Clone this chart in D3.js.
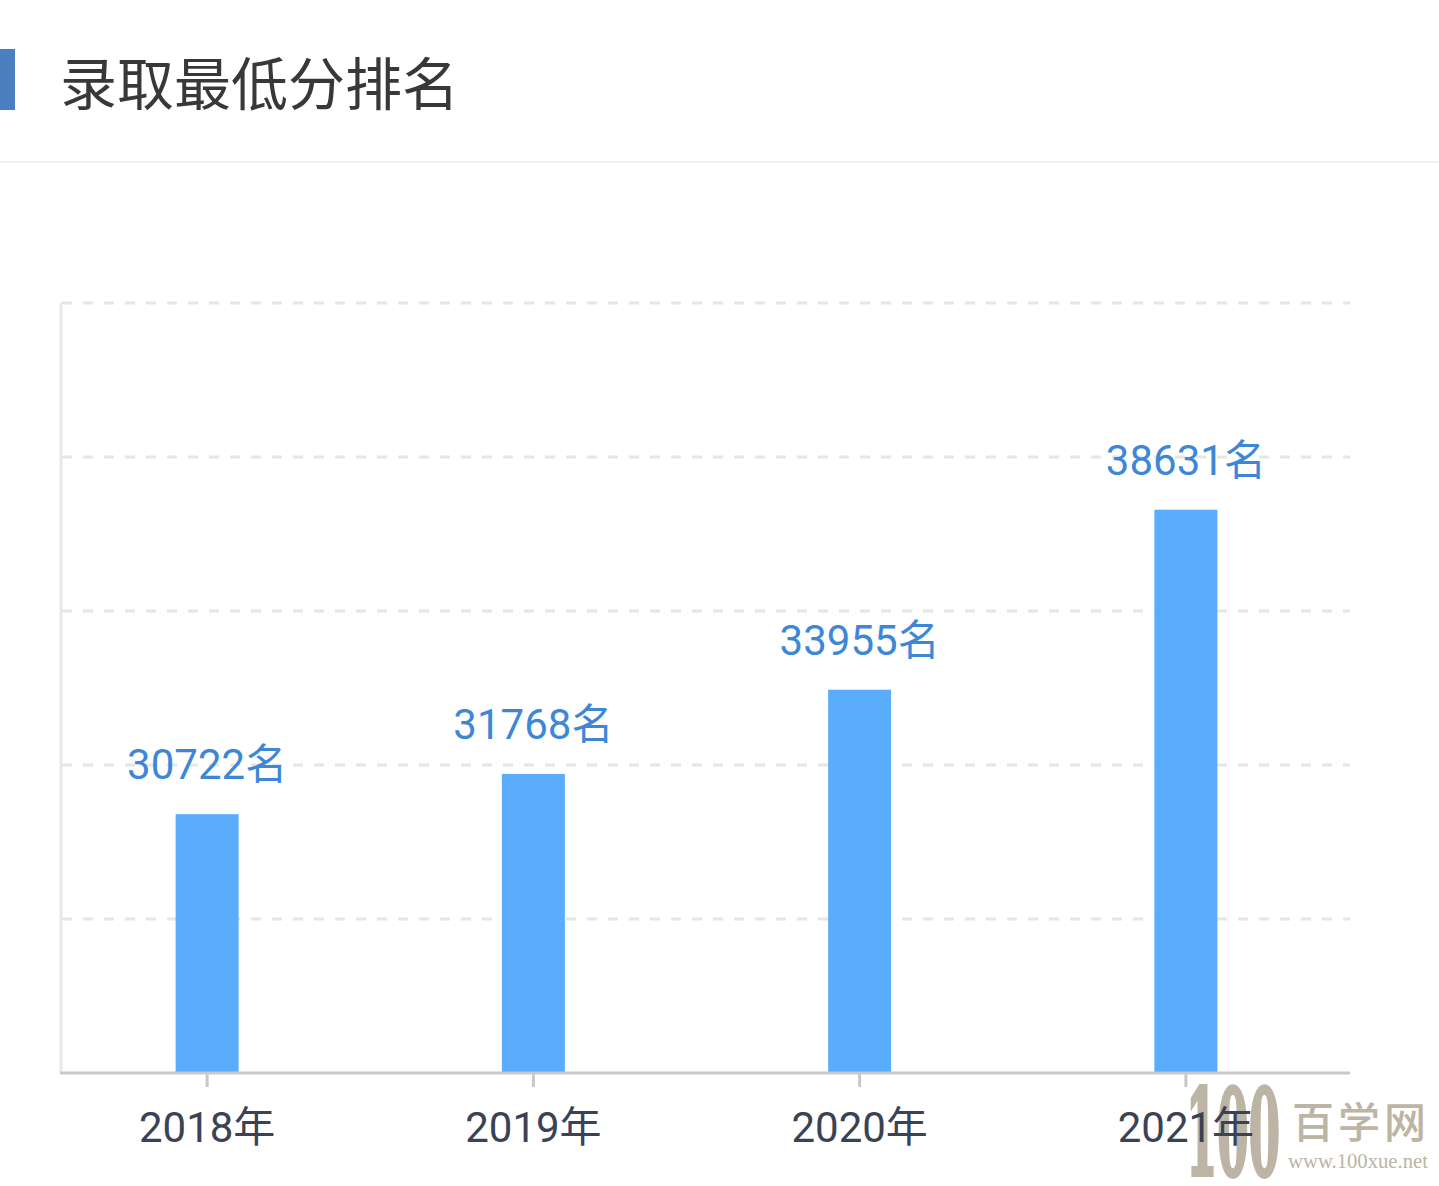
<!DOCTYPE html>
<html><head><meta charset="utf-8">
<script src="https://cdn.jsdelivr.net/npm/d3@7"></script>
<style>html,body{margin:0;padding:0;background:#fff;}svg{display:block;}</style>
</head><body>
<svg id="c" width="1439" height="1186"></svg>
<script>
const title = "录取最低分排名";
const categories = ["2018年", "2019年", "2020年", "2021年"];
const values = [30722, 31768, 33955, 38631];
const labelSuffix = "名";
const yTicks = [24000, 28000, 32000, 36000, 40000, 44000];

const svg = d3.select("#c");
const font = "Roboto, 'Noto Sans CJK SC', sans-serif";

// header
svg.append("rect").attr("x", 0).attr("y", 49).attr("width", 15).attr("height", 61).attr("fill", "#4a7fc0");
svg.append("text").attr("x", 60).attr("y", 105).attr("font-family", "'Noto Sans CJK SC', sans-serif")
  .attr("font-size", 57).attr("fill", "#383838").text(title);
svg.append("rect").attr("x", 0).attr("y", 161).attr("width", 1439).attr("height", 2).attr("fill", "#f2f2f2");

const x = d3.scaleBand().domain(categories).range([44, 1349]);
const y = d3.scaleLinear().domain([24000, 44000]).range([1073, 303]);

// grid
svg.append("g").selectAll("line").data(yTicks.slice(1)).join("line")
  .attr("x1", 62).attr("x2", 1350).attr("y1", d => y(d)).attr("y2", d => y(d))
  .attr("stroke", "#e6e6e6").attr("stroke-width", 3).attr("stroke-dasharray", "10,11");

// y axis line
svg.append("line").attr("x1", 61).attr("x2", 61).attr("y1", y(44000)).attr("y2", y(24000))
  .attr("stroke", "#e8e8e8").attr("stroke-width", 3);

// bars
const bw = 63;
svg.append("g").selectAll("rect").data(values).join("rect")
  .attr("x", (d, i) => x(categories[i]) + x.bandwidth() / 2 - bw / 2)
  .attr("width", bw)
  .attr("y", d => y(d))
  .attr("height", d => y(24000) - y(d))
  .attr("fill", "#5aacfd");

// value labels
svg.append("g").selectAll("text").data(values).join("text")
  .attr("x", (d, i) => x(categories[i]) + x.bandwidth() / 2)
  .attr("y", d => y(d) - 35)
  .attr("text-anchor", "middle").attr("font-family", font).attr("font-size", 42)
  .attr("fill", "#3d87d6").text(d => d + labelSuffix);

// watermark
const wm = svg.append("g").attr("fill", "#bcb4a4");
wm.append("text").attr("x", 1186).attr("y", 1175).attr("font-family", "'DejaVu Serif', serif")
  .attr("font-size", 120).attr("font-weight", "bold").attr("textLength", 94)
  .attr("lengthAdjust", "spacingAndGlyphs").attr("stroke", "#bcb4a4").attr("stroke-width", 4).text("100");
wm.append("text").attr("x", 1292).attr("y", 1138).attr("font-family", "'Noto Sans CJK SC', sans-serif")
  .attr("font-size", 42).attr("font-weight", "500").attr("letter-spacing", 4).text("百学网");
wm.append("text").attr("x", 1288).attr("y", 1168).attr("font-family", "'Liberation Serif', serif")
  .attr("font-size", 20).attr("textLength", 140).attr("lengthAdjust", "spacingAndGlyphs").text("www.100xue.net");

// x axis
const xa = svg.append("g").attr("transform", "translate(0,1073)")
  .call(d3.axisBottom(x).tickSize(14).tickPadding(25).tickSizeOuter(0));
xa.select(".domain").attr("d", "M60,0H1350").attr("stroke", "#c8c8c8").attr("stroke-width", 3);
xa.selectAll(".tick line").attr("stroke", "#c8c8c8").attr("stroke-width", 3);
xa.selectAll(".tick text").attr("font-family", font).attr("font-size", 42).attr("fill", "#3a4254")
  .attr("dy", "0.71em");
</script>
</body></html>
